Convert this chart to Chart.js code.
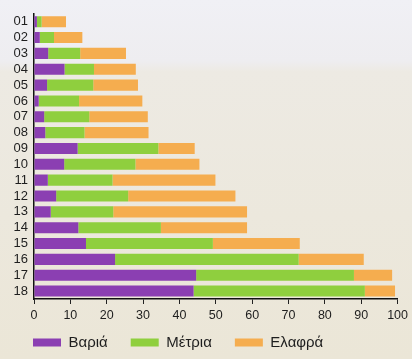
<!DOCTYPE html>
<html><head><meta charset="utf-8">
<script src="https://cdn.jsdelivr.net/npm/chart.js@4"></script>
<style>html,body{margin:0;padding:0;background:#ecebe6}#w{width:412px;height:359px}</style>
</head><body><div id="w"><canvas id="c"></canvas></div>
<script>
const categories = ['01','02','03','04','05','06','07','08','09','10','11','12','13','14','15','16','17','18'];
const heavy  = [0.8, 1.6, 3.9, 8.4, 3.6, 1.3, 2.8, 3.1, 12.0, 8.3, 3.8, 6.1, 4.6, 12.2, 14.3, 22.3, 44.6, 43.9];
const medium = [1.3, 3.9, 8.8, 8.1, 12.7, 11.1, 12.4, 10.8, 22.2, 19.6, 17.8, 19.8, 17.2, 22.7, 34.9, 50.5, 43.4, 47.1];
const light  = [6.7, 7.8, 12.6, 11.5, 12.3, 17.4, 16.1, 17.6, 10.0, 17.6, 28.3, 29.5, 36.8, 23.7, 23.9, 17.9, 10.5, 8.3];
const seriesNames = ['Βαριά','Μέτρια','Ελαφρά'];
const xTicks = [0,10,20,30,40,50,60,70,80,90,100];

const colors = ['#8b3fb2','#8fcf3e','#f5ad4f'];

const bg = {
  id:'bg',
  beforeDraw(chart){
    const {ctx,width,height} = chart;
    const g = ctx.createLinearGradient(0,0,0,height);
    g.addColorStop(0,'#f0f0f5');
    g.addColorStop(0.17,'#eeedf0');
    g.addColorStop(0.2,'#edeae3');
    g.addColorStop(1,'#ebe6d7');
    ctx.save();ctx.fillStyle=g;ctx.fillRect(0,0,width,height);ctx.restore();
  }
};

const legendFit = {
  id:'legendFit',
  afterInit(chart){
    const lg = chart.legend;
    if(!lg) return;
    const orig = lg.fit.bind(lg);
    lg.fit = function(){ orig(); this.height = 40; };
  },
  afterLayout(chart){
    const lg = chart.legend;
    if(!lg) return;
    lg.top -= 7; lg.bottom -= 7;
  }
};

new Chart(document.getElementById('c'),{
  type:'bar',
  data:{
    labels:categories,
    datasets:[
      {label:seriesNames[0],data:heavy,backgroundColor:colors[0]},
      {label:seriesNames[1],data:medium,backgroundColor:colors[1]},
      {label:seriesNames[2],data:light,backgroundColor:colors[2]}
    ]
  },
  options:{
    indexAxis:'y',
    responsive:true,maintainAspectRatio:false,animation:false,
    layout:{padding:{left:10,right:10,top:7,bottom:0}},
    datasets:{bar:{categoryPercentage:1,barPercentage:0.7,borderWidth:0}},
    scales:{
      x:{
        stacked:true,min:0,max:100,
        afterBuildTicks(s){s.ticks=xTicks.map(v=>({value:v}));},
        afterFit(s){s.height=20;},
        grid:{drawOnChartArea:false,drawTicks:true,tickLength:5,color:'#222',lineWidth:1},
        border:{display:true,color:'#111',width:1.5},
        ticks:{color:'#1e1e1e',font:{family:'Liberation Sans',size:12.5},padding:4,maxRotation:0,autoSkip:false}
      },
      y:{
        stacked:true,
        afterFit(s){s.width=24;},
        grid:{display:true,drawOnChartArea:false,drawTicks:false},
        border:{display:true,color:'#111',width:1.5},
        ticks:{color:'#1e1e1e',font:{family:'Liberation Sans',size:13},padding:6,autoSkip:false}
      }
    },
    plugins:{
      legend:{
        position:'bottom',align:'start',
        labels:{boxWidth:28,boxHeight:8,padding:23,color:'#1e1e1e',font:{family:'Liberation Sans',size:15}}
      },
      tooltip:{enabled:false}
    }
  },
  plugins:[bg,legendFit]
});
</script></body></html>
